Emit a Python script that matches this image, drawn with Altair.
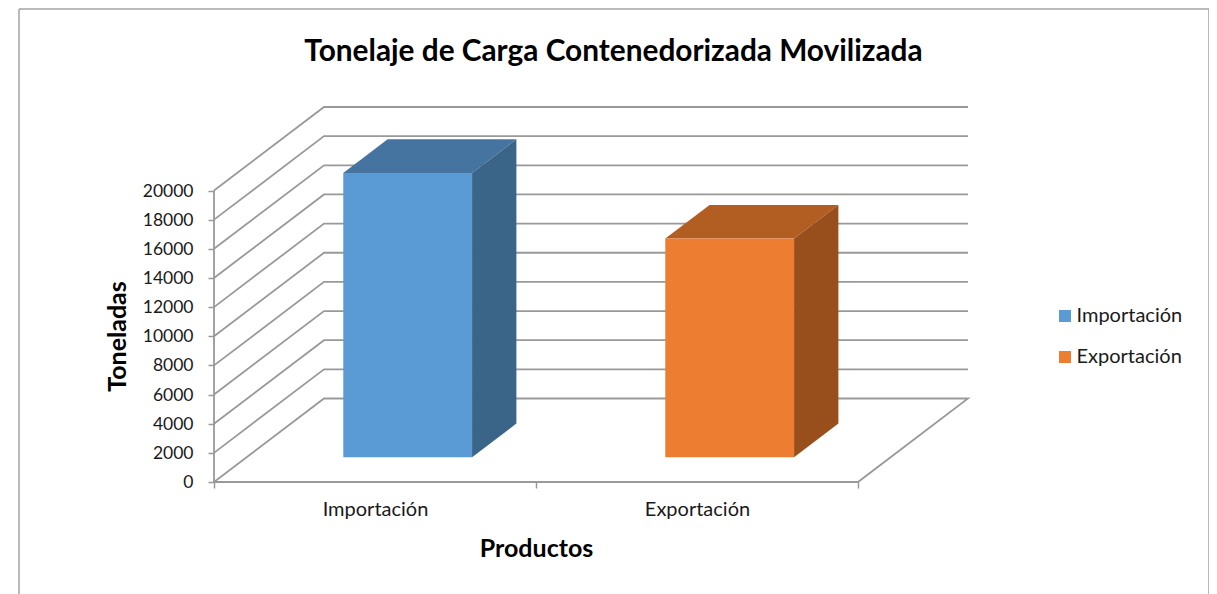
import altair as alt
import pandas as pd

categories = ["Importación", "Exportación"]
values = [19500, 15000]
ticks = list(range(0, 20001, 2000))
front_colors = ["#5B9BD5", "#ED7D31"]
top_colors = ["#44749F", "#B25D22"]
side_colors = ["#3A6488", "#984F1C"]
chart_title = "Tonelaje de Carga Contenedorizada Movilizada"

FONT = "Lato"
LINE = "#999999"
# oblique projection of the depth axis, in data units
DX = 110 / 322
DY = 83.5 / 291.5 * 20000
D0, D1 = 0.297, 0.70
HALF = 0.2

W, H = 754, 375
xs = alt.Scale(domain=[0, W / 322], nice=False, zero=False)
ys = alt.Scale(domain=[0, H / 291.5 * 20000], nice=False, zero=False)

x_axis = alt.Axis(
    values=[0, 0.5, 1, 1.5, 2],
    labelExpr=f"datum.value == 0.5 ? '{categories[0]}' : datum.value == 1.5 ? '{categories[1]}' : ''",
    tickOpacity={"expr": "datum.value == 0.5 || datum.value == 1.5 ? 0 : 1"},
    grid=False, domain=False, tickColor=LINE, tickSize=6, tickWidth=1.5,
    labelFont=FONT, labelFontSize=20, labelColor="#1a1a1a", labelPadding=11,
    labelOverlap=False, labelFlush=False,
    titleFont=FONT, titleFontSize=25, titleFontWeight="bold", titleColor="#000000",
    titleX=322, titleY=54, titleAlign="center",
)
y_axis = alt.Axis(
    values=ticks, format="d", grid=False, domain=False, tickColor=LINE, tickSize=6, tickWidth=1.5,
    labelFont=FONT, labelFontSize=17.5, labelColor="#1a1a1a", labelPadding=15, labelOffset=0.5,
    labelOverlap=False, labelFlush=False,
    titleFont=FONT, titleFontSize=25, titleFontWeight="bold", titleColor="#000000",
    titleX=-84, titleY=229, titleAlign="center",
)


def ex(f):
    return alt.X(f, scale=xs, axis=x_axis, title="Productos")


def ey(f):
    return alt.Y(f, scale=ys, axis=y_axis, title="Toneladas", stack=None)


def px(c, d):
    return c + d * DX


def py(v, d):
    return v + d * DY


rows = []
for v in ticks:
    path = [(0, 0), (0, 1), (2, 1)]
    if v == 0:
        path += [(2, 0), (0, 0)]
    for i, (c, d) in enumerate(path):
        rows.append({"k": f"g{v}", "i": i, "x": px(c, d), "y": py(v, d)})
rows += [{"k": "wall", "i": 0, "x": 0, "y": 0}, {"k": "wall", "i": 1, "x": 0, "y": 20000}]
grid = pd.DataFrame(rows)

lines = alt.Chart(grid).mark_line(color=LINE, strokeWidth=1.8).encode(
    x=ex("x:Q"), y=ey("y:Q"), detail="k:N", order="i:Q"
)

layers = [lines]
fronts = []
for n, (name, val) in enumerate(zip(categories, values)):
    lo, hi = n + 0.5 - HALF, n + 0.5 + HALF
    top = pd.DataFrame({
        "x": [px(lo, D0), px(lo, D1), px(hi, D0), px(hi, D1)],
        "y": [py(val, D0), py(val, D1), py(val, D1), py(val, D1)],
        "y2": [py(val, D0), py(val, D0), py(val, D0), py(val, D1)],
    })
    side = pd.DataFrame({
        "x": [px(hi, D0), px(hi, D1)],
        "y": [py(val, D0), py(val, D1)],
        "y2": [py(0, D0), py(0, D1)],
    })
    layers.append(alt.Chart(top).mark_area(color=top_colors[n], orient="vertical", interpolate="linear").encode(
        x=ex("x:Q"), y=ey("y:Q"), y2="y2:Q"))
    layers.append(alt.Chart(side).mark_area(color=side_colors[n], orient="vertical", interpolate="linear").encode(
        x=ex("x:Q"), y=ey("y:Q"), y2="y2:Q"))
    fronts.append({"name": name, "x": px(lo, D0), "x2": px(hi, D0), "y": py(val, D0), "y2": py(0, D0)})

front = alt.Chart(pd.DataFrame(fronts)).mark_rect().encode(
    x=ex("x:Q"),
    x2="x2:Q",
    y=ey("y:Q"),
    y2="y2:Q",
    color=alt.Color(
        "name:N",
        scale=alt.Scale(domain=categories, range=front_colors),
        legend=alt.Legend(
            title=None, orient="none", legendX=841, legendY=199,
            symbolType="square", symbolSize=144, symbolStrokeWidth=0,
            labelFont=FONT, labelFontSize=20, labelColor="#1a1a1a",
            labelOffset=1.5, rowPadding=21, padding=0,
        ),
    ),
)
layers.append(front)

BORDER = "#a3a3a3"
border = [
    alt.Chart().mark_rule(color=BORDER, strokeWidth=1.5).encode(
        x=alt.value(-195), y=alt.value(-98), y2=alt.value(490)),
    alt.Chart().mark_rule(color=BORDER, strokeWidth=1.5).encode(
        x=alt.value(995), y=alt.value(-98), y2=alt.value(490)),
    alt.Chart().mark_rule(color=BORDER, strokeWidth=1.5).encode(
        y=alt.value(-98), x=alt.value(-195), x2=alt.value(995)),
]

title_mark = alt.Chart().mark_text(
    text=chart_title, font=FONT, fontSize=29.8, fontWeight="bold", color="#000000",
    align="center", baseline="middle",
).encode(x=alt.value(399.5), y=alt.value(-55))

chart = alt.layer(*layers, *border, title_mark).properties(
    width=W,
    height=H,
    padding={"left": 206, "top": 99, "right": 241, "bottom": 112},
    autosize=alt.AutoSizeParams(type="none"),
).configure_view(stroke=None)

chart.save("out.html", embed_options={"renderer": "svg", "actions": False})
